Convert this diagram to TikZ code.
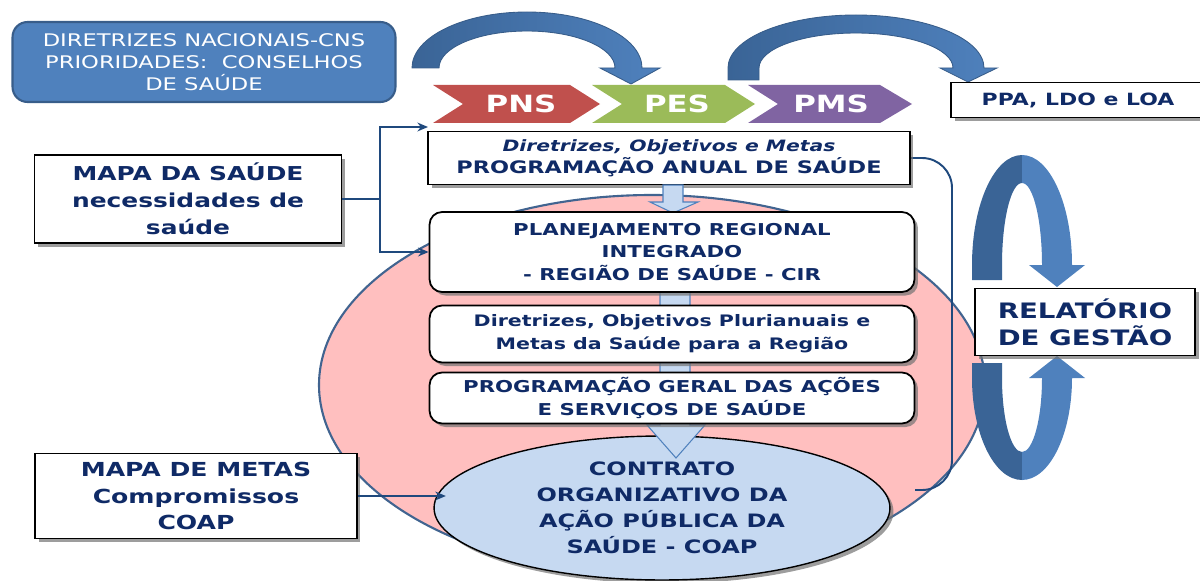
\documentclass[tikz,border=0pt]{standalone}
\usepackage{fontspec}
\setmainfont{DejaVu Sans}[FakeStretch=1.3]
\usetikzlibrary{arrows.meta, positioning, shapes.geometric, shadows}

\definecolor{navy}{HTML}{0F2A66}
\definecolor{boxblue}{HTML}{4F81BD}
\definecolor{boxblueline}{HTML}{385D8A}
\definecolor{arrowdark}{HTML}{3A6496}
\definecolor{pnsred}{HTML}{C0504D}
\definecolor{pesgreen}{HTML}{9BBB59}
\definecolor{pmspurple}{HTML}{8064A2}
\definecolor{regiaopink}{HTML}{FFBFBF}
\definecolor{linkblue}{HTML}{1F497D}
\definecolor{coapblue}{HTML}{C6D9F1}

\begin{document}
\begin{tikzpicture}[x=0.02cm, y=-0.02cm,
  caixa/.style={draw=black, line width=1pt, fill=white, text=navy, align=center, inner sep=0pt,
    drop shadow={shadow xshift=2pt, shadow yshift=-2pt, fill=black!55, opacity=0.7}},
  caixaredonda/.style={caixa, rounded corners=0.25cm},
  seta/.style={draw=boxblue, line width=0.6pt, fill=coapblue},
  curva/.style={draw=boxblueline, line width=0.5pt, left color=arrowdark, right color=boxblue},
  ligacao/.style={draw=linkblue, line width=1.1pt},
  chev/.style={text=white, font=\fontsize{13.5}{15}\selectfont\bfseries, inner sep=0pt}
]
\useasboundingbox (0,0) rectangle (1200,581);

% Diretrizes nacionais - caixa azul no canto
\node[draw=boxblueline, line width=1.2pt, fill=boxblue, rounded corners=0.3cm, text=white, align=center,
  minimum width=7.66cm, minimum height=1.6cm, inner sep=0pt,
  font=\fontsize{9.9}{12.5}\selectfont] (cns) at (204,62)
  {DIRETRIZES NACIONAIS-CNS\\PRIORIDADES:\ \ CONSELHOS\\DE SAÚDE};

% Setas curvas de cima
\path[curva] (412,68) arc[start angle=180, end angle=360, x radius=115, y radius=56]
  -- (660,68) -- (631,84) -- (600,68) -- (615,68)
  arc[start angle=360, end angle=180, x radius=88, y radius=37] -- cycle;
\path[curva] (728,80) -- (728,68) arc[start angle=180, end angle=360, x radius=128, y radius=53]
  -- (997,68) -- (968,82) -- (940,68) -- (953,68)
  arc[start angle=360, end angle=180, x radius=97, y radius=35] -- (759,80) -- cycle;

% PNS - PES - PMS
\fill[pnsred] (433,85) -- (570,85) -- (600,104) -- (570,123) -- (433,123) -- (463,104) -- cycle;
\fill[pesgreen] (592,85) -- (725,85) -- (755,104) -- (725,123) -- (592,123) -- (622,104) -- cycle;
\fill[pmspurple] (748,85) -- (880,85) -- (912,104) -- (880,123) -- (748,123) -- (778,104) -- cycle;
\node[chev] (pns) at (521,104) {PNS};
\node[chev] (pes) at (677,104) {PES};
\node[chev] (pms) at (831,104) {PMS};

\node[caixa, minimum width=5.08cm, minimum height=0.7cm, font=\fontsize{9.6}{10}\selectfont\bfseries]
  (ppa) at (1078,100) {PPA, LDO e LOA};

% Regiao de saude - elipse rosa
\draw[line width=1.2pt, draw=linkblue!85, fill=regiaopink] (652,385) ellipse [x radius=333, y radius=190];

% Chave do lado direito
\coordinate (fimchave) at (915,490);
\draw[ligacao, rounded corners=0.6cm] (910,158) -- (952,158) -- (952,490) -- (fimchave);

% Relatorio de gestao - setas circulares
\fill[arrowdark] (972,280) -- (972,265) arc[start angle=180, end angle=270, x radius=50, y radius=110]
  -- (1022,183) arc[start angle=270, end angle=180, x radius=20, y radius=82] -- (1002,280) -- cycle;
\fill[boxblue] (1022,155) arc[start angle=270, end angle=360, x radius=50, y radius=110]
  -- (1085,265) -- (1057,287) -- (1029,265) -- (1042,265)
  arc[start angle=360, end angle=270, x radius=20, y radius=82] -- cycle;
\fill[arrowdark] (972,363) -- (972,378) arc[start angle=180, end angle=90, x radius=50, y radius=102]
  -- (1022,452) arc[start angle=90, end angle=180, x radius=20, y radius=74] -- (1002,363) -- cycle;
\fill[boxblue] (1022,480) arc[start angle=90, end angle=0, x radius=50, y radius=102]
  -- (1085,378) -- (1057,356) -- (1029,378) -- (1042,378)
  arc[start angle=0, end angle=90, x radius=20, y radius=74] -- cycle;

\node[caixa, minimum width=4.4cm, minimum height=1.34cm, font=\fontsize{12.1}{15.3}\selectfont\bfseries]
  (rg) at (1085,322) {RELATÓRIO\\DE GESTÃO};

% COAP
\node[ellipse, draw=black, line width=0.8pt, fill=coapblue, text=navy, align=center,
  minimum width=9.12cm, minimum height=2.88cm, inner sep=0pt,
  drop shadow={shadow xshift=2pt, shadow yshift=-2pt, fill=black!55, opacity=0.7},
  font=\fontsize{10.5}{14.8}\selectfont\bfseries] (coap) at (662,508)
  {CONTRATO\\ORGANIZATIVO DA\\AÇÃO PÚBLICA DA\\SAÚDE - COAP};

% Seta vertical clara
\draw[seta] (660,292) -- (690,292) -- (690,425) -- (705,425) -- (676,458) -- (647,425) -- (660,425) -- cycle;

% Caixas centrais
\node[caixa, minimum width=9.64cm, minimum height=1.06cm, font=\fontsize{9.8}{12.5}\selectfont\bfseries]
  (pas) at (669,158) {{\fontsize{8.9}{12.5}\selectfont\itshape Diretrizes, Objetivos e Metas}\\PROGRAMAÇÃO ANUAL DE SAÚDE};
\draw[seta] (663,185) -- (683,185) -- (683,202) -- (698,202) -- (673,213) -- (650,202) -- (663,202) -- cycle;

\node[caixaredonda, minimum width=9.7cm, minimum height=1.6cm, font=\fontsize{9.3}{13}\selectfont\bfseries]
  (pri) at (672,252) {PLANEJAMENTO REGIONAL\\INTEGRADO\\- REGIÃO DE SAÚDE - CIR};
\node[caixaredonda, minimum width=9.7cm, minimum height=1.14cm, font=\fontsize{9}{13}\selectfont\bfseries]
  (dop) at (672,334) {Diretrizes, Objetivos Plurianuais e\\Metas da Saúde para a Região};
\node[caixaredonda, minimum width=9.7cm, minimum height=1.02cm, font=\fontsize{9.3}{13}\selectfont\bfseries]
  (pga) at (672,398) {PROGRAMAÇÃO GERAL DAS AÇÕES\\E SERVIÇOS DE SAÚDE};

% Mapas da esquerda
\node[caixa, minimum width=6.14cm, minimum height=1.76cm, font=\fontsize{10.9}{15.3}\selectfont\bfseries]
  (mapa) at (188,199) {MAPA DA SAÚDE\\necessidades de\\saúde};
\node[caixa, minimum width=6.44cm, minimum height=1.7cm, font=\fontsize{11}{15.3}\selectfont\bfseries]
  (metas) at (196,496) {MAPA DE METAS\\Compromissos\\COAP};

% Ligacoes
\coordinate (divide) at (380,199);
\coordinate (topopas) at (428,127);
\draw[ligacao] (mapa.east) -- (divide);
\draw[ligacao, -{Stealth[length=6pt, width=5pt]}] (divide) |- (topopas);
\draw[ligacao, -{Stealth[length=6pt, width=5pt]}] (divide) |- (pri.west);
\draw[ligacao, -{Stealth[length=6pt, width=5pt]}] (metas.east) -- ([xshift=0.25cm]metas.east -| coap.west);

\end{tikzpicture}
\end{document}
